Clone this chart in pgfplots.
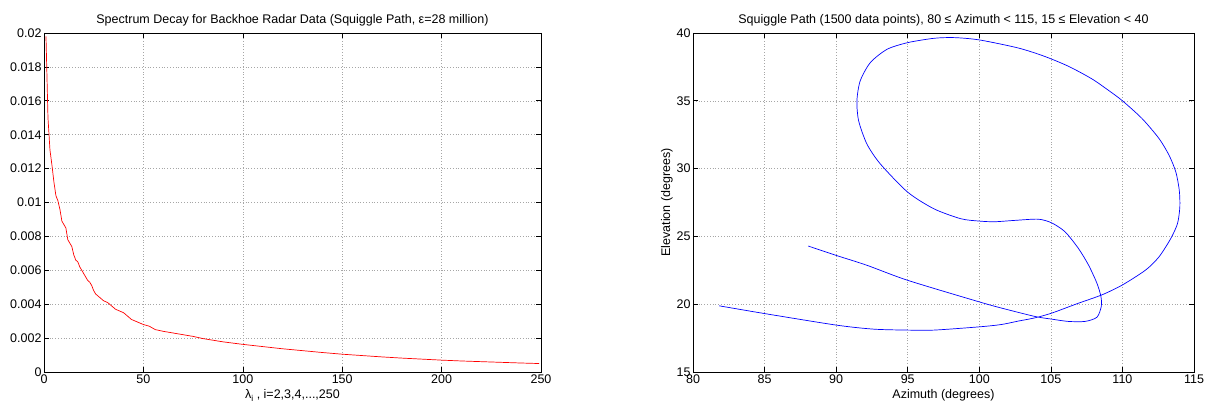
\documentclass[border=0pt]{standalone}
\usepackage{pgfplots}
\pgfplotsset{compat=1.18}
\usepackage{fontspec}
\setmainfont{Liberation Sans}
\pgfplotstableread{
x y
1 0.0198
2 0.0150
3 0.0131
4 0.0122
5 0.0112
6 0.0104
7 0.0101
8 0.0096
9 0.0089
10 0.0087
11 0.0085
12 0.0078
13 0.0076
14 0.0074
15 0.0069
16 0.0066
17 0.0065
18 0.0062
19 0.0060
20 0.0058
21 0.0056
22 0.0054
23 0.0053
24 0.0051
25 0.0048
26 0.0046
27 0.0045
28 0.0044
30 0.0042
32 0.0041
34 0.0039
36 0.0037
38 0.0036
40 0.0035
42 0.0033
44 0.0031
46 0.0030
48 0.0029
50 0.0028
53 0.0027
56 0.0025
60 0.0024
65 0.0023
70 0.0022
75 0.0021
80 0.00197
90 0.00178
100 0.00163
110 0.00150
120 0.00137
130 0.00126
140 0.00115
150 0.00105
160 0.00097
170 0.00089
180 0.00082
190 0.00076
200 0.00070
210 0.00065
220 0.00061
230 0.00057
240 0.00053
249 0.00050
}\spectrum
\pgfplotstableread{
x y
81.83 19.88
85.00 19.31
90.00 18.46
92.62 18.16
95.00 18.09
96.84 18.09
100.00 18.33
101.53 18.50
102.70 18.75
103.87 18.99
105.05 19.34
106.92 20.07
108.57 20.69
110.00 21.42
111.62 22.52
112.56 23.50
113.38 24.85
113.85 25.96
114.01 27.18
113.97 28.41
113.73 29.75
113.26 30.98
112.56 32.21
111.38 33.68
110.00 35.00
109.04 35.76
107.86 36.62
106.22 37.55
104.50 38.30
102.70 38.90
100.00 39.49
98.25 39.66
96.84 39.61
95.00 39.29
93.56 38.80
92.39 37.82
91.68 36.47
91.45 35.00
91.57 33.53
92.15 31.81
93.09 30.34
95.00 28.26
96.84 27.03
98.72 26.30
100.00 26.13
101.06 26.08
102.47 26.18
104.11 26.27
105.05 26.00
105.99 25.34
106.92 24.12
107.63 22.89
108.22 21.54
108.50 20.56
108.52 19.83
108.22 19.04
107.39 18.73
106.22 18.73
105.05 18.90
103.87 19.10
101.53 19.72
100.00 20.17
95.00 21.76
92.15 22.87
90.00 23.60
88.05 24.29
}\squiggle
\pgfplotsset{
  mstyle/.style={
    scale only axis,
    axis line style={black, line width=0.8pt},
    tick align=inside,
    xtick pos=both, ytick pos=both,
    major tick length=5pt,
    tick style={black, line width=0.6pt},
    grid=major,
    major grid style={gray!70, line width=0.5pt, dash pattern=on 0.8pt off 2pt},
    tick label style={font=\fontsize{12.5}{14}\selectfont},
    label style={font=\fontsize{12.5}{14}\selectfont},
    title style={font=\fontsize{12.5}{14}\selectfont, yshift=-3pt},
    /pgf/number format/assume math mode=true,
    xticklabel style={yshift=1pt},
    yticklabel style={xshift=1pt},
    xlabel style={at={(axis description cs:0.5,-0.068)}, anchor=center},
  }
}
\begin{document}
\begin{tikzpicture}[x=1pt,y=1pt]
\path[use as bounding box] (0,0) rectangle (1209,404);
\begin{axis}[mstyle,
  at={(44pt,32pt)}, anchor=south west,
  width=497pt, height=339pt,
  xmin=0, xmax=250, ymin=0, ymax=0.02,
  xtick={0,50,...,250},
  ytick={0,0.002,0.004,0.006,0.008,0.01,0.012,0.014,0.016,0.018,0.02},
  yticklabels={0,0.002,0.004,0.006,0.008,0.01,0.012,0.014,0.016,0.018,0.02},
  scaled y ticks=false,
  title={Spectrum Decay for Backhoe Radar Data (Squiggle Path, ε=28 million)},
  xlabel={λ\raisebox{-0.45ex}{\fontsize{8.5}{9}\selectfont i} , i=2,3,4,...,250},
]
\addplot[red, line width=0.7pt] table[x=x,y=y] {\spectrum};
\end{axis}
\begin{axis}[mstyle,
  at={(693pt,32pt)}, anchor=south west,
  width=501pt, height=339pt,
  xmin=80, xmax=115, ymin=15, ymax=40,
  xtick={80,85,...,115},
  ytick={15,20,...,40},
  title={Squiggle Path (1500 data points), 80 ≤ Azimuth < 115, 15 ≤ Elevation < 40},
  xlabel={Azimuth (degrees)},
  ylabel={Elevation (degrees)},
  ylabel style={at={(axis description cs:-0.052,0.5)}, anchor=center},
]
\addplot[blue, line width=0.7pt, smooth, tension=0.45] table[x=x,y=y] {\squiggle};
\end{axis}
\end{tikzpicture}
\end{document}
